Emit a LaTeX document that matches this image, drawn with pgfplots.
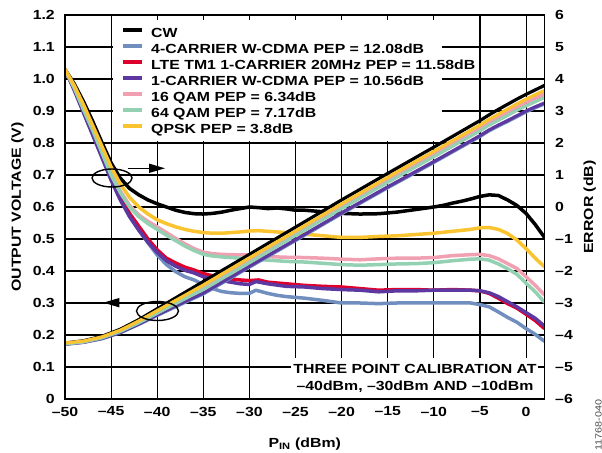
\documentclass[border=0pt]{standalone}
\usepackage{fontspec}
\setmainfont{Liberation Sans}[FakeStretch=1.2]
\usepackage{pgfplots}
\pgfplotsset{compat=1.18}
\usetikzlibrary{arrows.meta}
\definecolor{cblue}{RGB}{112,142,190}
\definecolor{cred}{RGB}{222,0,45}
\definecolor{cpurple}{RGB}{92,56,160}
\definecolor{cpink}{RGB}{240,160,176}
\definecolor{cgreen}{RGB}{148,208,178}
\definecolor{cyellow}{RGB}{250,196,48}
\newcommand{\lbl}{\fontsize{13.2bp}{15bp}\selectfont\bfseries}
\begin{document}
\begin{tikzpicture}[font=\lbl]
\pgfplotsset{
  common/.style={
    scale only axis, width=479.5bp, height=384bp,
    at={(0,0)}, anchor=south west,
    xmin=-50, xmax=2,
    xtick={-50,-45,-40,-35,-30,-25,-20,-15,-10,-5,0},
    major tick length=0pt,
    axis line style={line width=1.6bp},
    tick label style={font=\lbl},
    label style={font=\lbl},
  }
}
% ---------------- error axis (right) ----------------
\begin{axis}[common,
  ymin=-6, ymax=6,
  ytick={-6,-5,-4,-3,-2,-1,0,1,2,3,4,5,6},
  yticklabels={–6,–5,–4,–3,–2,–1,0,1,2,3,4,5,6},
  yticklabel pos=right,
  xticklabels={},
  grid=major, grid style={black, line width=1.1bp},
  yticklabel style={anchor=west, inner sep=0pt, xshift=10.5bp},
  every axis y label/.style={at={(rel axis cs:1,0.5)}, xshift=48.5bp, rotate=90, anchor=base},
  ylabel={ERROR (dB)},
  every axis plot/.append style={line width=3.5bp, line join=round},
]
\addplot[black] coordinates {(-50,4.3)(-49,3.85)(-48,3.3)(-47,2.68)(-46,2.02)(-45,1.38)(-44,0.9)(-43,0.58)(-42,0.38)(-41,0.22)(-40,0.1)(-39,0.0)(-38,-0.1)(-37,-0.17)(-36,-0.21)(-35,-0.22)(-34,-0.2)(-33,-0.16)(-32,-0.1)(-31,-0.05)(-30,0.0)(-29,-0.02)(-28,-0.05)(-27,-0.03)(-26,-0.06)(-25,-0.1)(-24,-0.1)(-22,-0.15)(-20,-0.2)(-18,-0.22)(-16,-0.21)(-14,-0.16)(-12,-0.08)(-10,0.0)(-9,0.05)(-8,0.12)(-7,0.18)(-6,0.25)(-5,0.33)(-4,0.38)(-3,0.36)(-2,0.22)(-1,0.05)(0,-0.2)(1,-0.55)(2,-0.95)};
\addplot[cblue] coordinates {(-50,4.3)(-49,3.68)(-48,3.0)(-47,2.3)(-46,1.6)(-45,0.88)(-44,0.25)(-43,-0.28)(-42,-0.72)(-41,-1.12)(-40,-1.5)(-39,-1.8)(-38,-2.02)(-37,-2.18)(-36,-2.28)(-35,-2.42)(-34,-2.55)(-33,-2.64)(-32,-2.68)(-31,-2.7)(-30,-2.7)(-29.3,-2.6)(-28,-2.7)(-27,-2.76)(-26,-2.8)(-24,-2.85)(-22,-2.92)(-20,-3.0)(-18,-3.0)(-16,-3.02)(-14,-3.0)(-12,-3.0)(-10,-3.0)(-8,-3.0)(-6,-3.0)(-5,-3.05)(-4,-3.12)(-3,-3.28)(-2,-3.45)(-1,-3.6)(0,-3.8)(1,-3.98)(2,-4.2)};
\addplot[cred] coordinates {(-50,4.3)(-49,3.7)(-48,3.0)(-47,2.3)(-46,1.6)(-45,0.9)(-44,0.3)(-43,-0.2)(-42,-0.6)(-41,-1.0)(-40,-1.34)(-39,-1.6)(-38,-1.75)(-37,-1.88)(-36,-1.97)(-35,-2.08)(-34,-2.15)(-33,-2.2)(-32,-2.25)(-31,-2.28)(-30,-2.3)(-29,-2.28)(-28,-2.35)(-26,-2.4)(-24,-2.45)(-22,-2.48)(-20,-2.5)(-18,-2.55)(-16,-2.6)(-14,-2.58)(-12,-2.58)(-10,-2.6)(-8,-2.58)(-6,-2.6)(-5,-2.62)(-4,-2.7)(-3,-2.85)(-2,-3.02)(-1,-3.16)(0,-3.35)(1,-3.55)(2,-3.8)};
\addplot[cpurple] coordinates {(-50,4.3)(-49,3.65)(-48,2.95)(-47,2.25)(-46,1.55)(-45,0.84)(-44,0.22)(-43,-0.3)(-42,-0.72)(-41,-1.1)(-40,-1.42)(-39,-1.68)(-38,-1.85)(-37,-1.98)(-36,-2.06)(-35,-2.18)(-34,-2.25)(-33,-2.3)(-32,-2.35)(-31,-2.4)(-30,-2.42)(-29.3,-2.33)(-28,-2.4)(-26,-2.48)(-24,-2.5)(-22,-2.55)(-20,-2.58)(-18,-2.6)(-16,-2.65)(-14,-2.62)(-12,-2.62)(-10,-2.6)(-8,-2.6)(-6,-2.6)(-5,-2.62)(-4,-2.68)(-3,-2.8)(-2,-2.96)(-1,-3.12)(0,-3.3)(1,-3.48)(2,-3.72)};
\addplot[cpink] coordinates {(-50,4.3)(-49,3.75)(-48,3.1)(-47,2.45)(-46,1.75)(-45,1.05)(-44,0.5)(-43,0.05)(-42,-0.25)(-41,-0.45)(-40,-0.62)(-39,-0.8)(-38,-0.98)(-37,-1.15)(-36,-1.3)(-35,-1.41)(-34,-1.46)(-33,-1.48)(-32,-1.49)(-30,-1.5)(-28,-1.55)(-26,-1.57)(-24,-1.58)(-22,-1.6)(-20,-1.63)(-18,-1.65)(-16,-1.62)(-14,-1.6)(-12,-1.6)(-10,-1.58)(-8,-1.52)(-6,-1.49)(-5,-1.48)(-4,-1.52)(-3,-1.62)(-2,-1.77)(-1,-1.92)(0,-2.18)(1,-2.45)(2,-2.75)};
\addplot[cgreen] coordinates {(-50,4.3)(-49,3.72)(-48,3.05)(-47,2.4)(-46,1.7)(-45,1.0)(-44,0.45)(-43,0.0)(-42,-0.3)(-41,-0.52)(-40,-0.7)(-39,-0.88)(-38,-1.05)(-37,-1.22)(-36,-1.36)(-35,-1.48)(-34,-1.53)(-33,-1.56)(-32,-1.58)(-30,-1.62)(-28,-1.66)(-26,-1.7)(-24,-1.72)(-22,-1.76)(-20,-1.8)(-18,-1.82)(-16,-1.8)(-14,-1.78)(-12,-1.77)(-10,-1.74)(-8,-1.68)(-6,-1.63)(-5,-1.62)(-4,-1.66)(-3,-1.78)(-2,-1.93)(-1,-2.1)(0,-2.38)(1,-2.65)(2,-2.98)};
\addplot[cyellow] coordinates {(-50,4.3)(-49,3.8)(-48,3.2)(-47,2.55)(-46,1.9)(-45,1.25)(-44,0.72)(-43,0.3)(-42,0.0)(-41,-0.22)(-40,-0.4)(-39,-0.52)(-38,-0.62)(-37,-0.7)(-36,-0.76)(-35,-0.8)(-34,-0.82)(-33,-0.82)(-32,-0.8)(-31,-0.78)(-30,-0.75)(-29,-0.74)(-28,-0.76)(-26,-0.8)(-24,-0.85)(-22,-0.9)(-20,-0.95)(-18,-0.95)(-16,-0.92)(-14,-0.9)(-12,-0.86)(-10,-0.82)(-8,-0.76)(-6,-0.7)(-5,-0.65)(-4,-0.64)(-3,-0.7)(-2,-0.83)(-1,-1.03)(0,-1.3)(1,-1.6)(2,-1.87)};
\end{axis}
% ---------------- voltage axis (left) ----------------
\begin{axis}[common,
  axis on top,
  ymin=0, ymax=1.2,
  ytick={0,0.1,0.2,0.3,0.4,0.5,0.6,0.7,0.8,0.9,1.0,1.1,1.2},
  yticklabels={0,0.1,0.2,0.3,0.4,0.5,0.6,0.7,0.8,0.9,1.0,1.1,1.2},
  xticklabels={–50,–45,–40,–35,–30,–25,–20,–15,–10,–5,0},
  xticklabel style={anchor=north, inner sep=0pt, yshift=-7.7bp},
  yticklabel style={anchor=east, inner sep=0pt, xshift=-10bp},
  every axis y label/.style={at={(rel axis cs:0,0.5)}, xshift=-44bp, rotate=90, anchor=base},
  every axis x label/.style={at={(rel axis cs:0.5,0)}, yshift=-48bp, anchor=base},
  ylabel={OUTPUT VOLTAGE (V)},
  xlabel={P\textsubscript{IN} (dBm)},
  every axis plot/.append style={line width=3.2bp, line join=round},
  legend style={at={(rel axis cs:0.1168,0.9703)}, anchor=north west, draw=none, fill=none,
    inner sep=0pt, row sep=0pt, font=\lbl,
    nodes={inner sep=0pt, text height=11bp, text depth=5bp},
    /tikz/every odd column/.append style={column sep=7bp}},
  legend cell align=left,
  legend image code/.code={\draw[#1, line width=4bp] (0bp,4.6bp) -- (19bp,4.6bp);},
]
% white backgrounds behind legend and note
\fill[white] (axis cs:-44.79,0.806) rectangle (axis cs:-9.12,1.184);
\fill[white] (axis cs:-25.49,0.004) rectangle (axis cs:1.30,0.128);
\addplot[black] coordinates {(-50,.175)(-48,.182)(-46,.196)(-44,.218)(-42,.248)(-40,.282)(-38,.316)(-36,.350)(-35,.367)(-30,.452)(-25,.537)(-20,.622)(-15,.705)(-10,.787)(-5,.870)(-4,.888)(-3,.905)(-2,.921)(-1,.937)(0,.952)(1,.966)(2,.980)};
\addlegendentry{CW}
\addplot[cblue] coordinates {(-50,.171)(-48,.177)(-46,.188)(-44,.207)(-42,.233)(-40,.261)(-38,.288)(-36,.315)(-35,.328)(-30,.412)(-25,.495)(-20,.579)(-15,.660)(-10,.739)(-5,.820)(-4,.838)(-3,.853)(-2,.867)(-1,.882)(0,.897)(1,.910)(2,.922)};
\addlegendentry{4-CARRIER W-CDMA PEP = 12.08dB}
\addplot[cred] coordinates {(-50,.173)(-48,.179)(-46,.192)(-44,.212)(-42,.240)(-40,.271)(-38,.302)(-36,.334)(-35,.349)(-30,.434)(-25,.518)(-20,.603)(-15,.685)(-10,.766)(-5,.848)(-4,.866)(-3,.882)(-2,.897)(-1,.913)(0,.928)(1,.941)(2,.954)};
\addlegendentry{LTE TM1 1-CARRIER 20MHz PEP = 11.58dB}
\addplot[cpurple] coordinates {(-50,.171)(-48,.177)(-46,.189)(-44,.208)(-42,.234)(-40,.263)(-38,.291)(-36,.318)(-35,.331)(-30,.415)(-25,.498)(-20,.582)(-15,.663)(-10,.742)(-5,.823)(-4,.841)(-3,.856)(-2,.870)(-1,.885)(0,.900)(1,.913)(2,.925)};
\addlegendentry{1-CARRIER W-CDMA PEP = 10.56dB}
\addplot[cpink] coordinates {(-50,.173)(-48,.179)(-46,.192)(-44,.213)(-42,.241)(-40,.272)(-38,.303)(-36,.334)(-35,.349)(-30,.434)(-25,.518)(-20,.603)(-15,.685)(-10,.766)(-5,.848)(-4,.866)(-3,.882)(-2,.897)(-1,.913)(0,.928)(1,.941)(2,.954)};
\addlegendentry{16 QAM PEP = 6.34dB}
\addplot[cgreen] coordinates {(-50,.172)(-48,.178)(-46,.191)(-44,.211)(-42,.238)(-40,.268)(-38,.298)(-36,.328)(-35,.342)(-30,.426)(-25,.511)(-20,.595)(-15,.677)(-10,.757)(-5,.838)(-4,.856)(-3,.871)(-2,.886)(-1,.902)(0,.916)(1,.929)(2,.942)};
\addlegendentry{64 QAM PEP = 7.17dB}
\addplot[cyellow] coordinates {(-50,.175)(-48,.181)(-46,.194)(-44,.215)(-42,.244)(-40,.276)(-38,.308)(-36,.340)(-35,.356)(-30,.441)(-25,.525)(-20,.610)(-15,.693)(-10,.774)(-5,.856)(-4,.874)(-3,.890)(-2,.906)(-1,.922)(0,.937)(1,.951)(2,.964)};
\addlegendentry{QPSK PEP = 3.8dB}
% annotations
\draw[line width=1.4bp] (axis cs:-44.9,0.6906) ellipse [x radius=20bp, y radius=9bp];
\draw[line width=1.4bp, -{Triangle[length=16bp,width=9bp]}] (axis cs:-43.17,0.721) -- (axis cs:-39.15,0.721);
\draw[line width=1.4bp] (axis cs:-39.97,0.275) ellipse [x radius=21bp, y radius=9.5bp];
\draw[line width=1.4bp, -{Triangle[length=16bp,width=9bp]}] (axis cs:-41.87,0.301) -- (axis cs:-45.85,0.301);
\node[anchor=base, inner sep=0pt] at (axis cs:-12.04,0.08125) {THREE POINT CALIBRATION AT};
\node[anchor=base, inner sep=0pt] at (axis cs:-12.04,0.028) {–40dBm, –30dBm AND –10dBm};
\coordinate (bl) at (rel axis cs:0,0);
\coordinate (tr) at (rel axis cs:1,1);
\end{axis}
\node[rotate=90, font=\fontsize{9bp}{10bp}\selectfont, text=black!70] at ([xshift=54bp,yshift=-26bp]bl -| tr) {11768-040};
\pgfresetboundingbox
\path ([shift={(-65bp,-54bp)}]bl) rectangle ([shift={(57.5bp,15bp)}]tr);
\end{tikzpicture}
\end{document}
